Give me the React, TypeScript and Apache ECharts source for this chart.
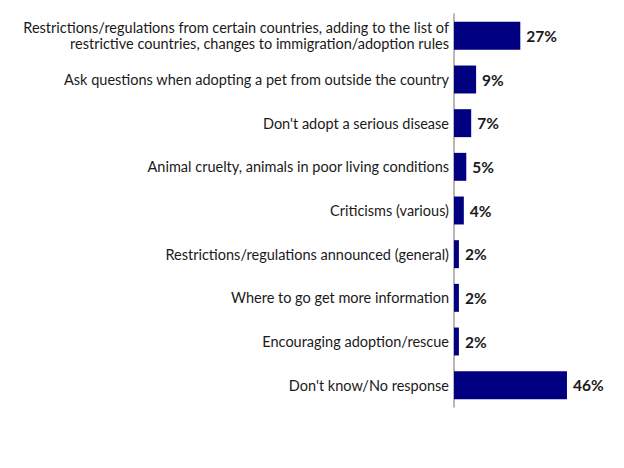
import React, { useEffect, useRef } from "react";
import * as echarts from "echarts";

const categories = [
  "Restrictions/regulations from certain countries, adding to the list of\nrestrictive countries, changes to immigration/adoption rules",
  "Ask questions when adopting a pet from outside the country",
  "Don't adopt a serious disease",
  "Animal cruelty, animals in poor living conditions",
  "Criticisms (various)",
  "Restrictions/regulations announced (general)",
  "Where to go get more information",
  "Encouraging adoption/rescue",
  "Don't know/No response",
];
const values = [27, 9, 7, 5, 4, 2, 2, 2, 46];

export default function App() {
  const ref = useRef<HTMLDivElement>(null);
  useEffect(() => {
    if (!ref.current) return;
    const chart = echarts.init(ref.current, undefined, { renderer: "svg" });
    chart.setOption({
      animation: false,
      backgroundColor: "#ffffff",
      grid: { left: 454, top: 14, width: 122.8, height: 393 },
      xAxis: {
        type: "value",
        min: 0,
        max: 50,
        show: false,
      },
      yAxis: {
        type: "category",
        inverse: true,
        data: categories,
        axisLine: { show: true, lineStyle: { color: "#a0a0a0", width: 1.5 } },
        axisTick: { show: false },
        axisLabel: {
          color: "#1a1a1a",
          fontFamily: "Lato",
          fontSize: 14.5,
          lineHeight: 16,
          margin: 5,
          align: "right",
        },
        splitLine: { show: false },
      },
      series: [
        {
          type: "bar",
          data: values,
          barWidth: "64%",
          itemStyle: { color: "#000080" },
          label: {
            show: true,
            position: "right",
            distance: 6,
            formatter: "{c}%",
            color: "#1a1a1a",
            fontFamily: "Lato",
            fontWeight: "bold",
            fontSize: 15.5,
          },
        },
      ],
    });
    return () => chart.dispose();
  }, []);
  return (
    <div
      ref={ref}
      style={{ position: "fixed", left: 0, top: 0, width: 624, height: 468, background: "#fff" }}
    />
  );
}
